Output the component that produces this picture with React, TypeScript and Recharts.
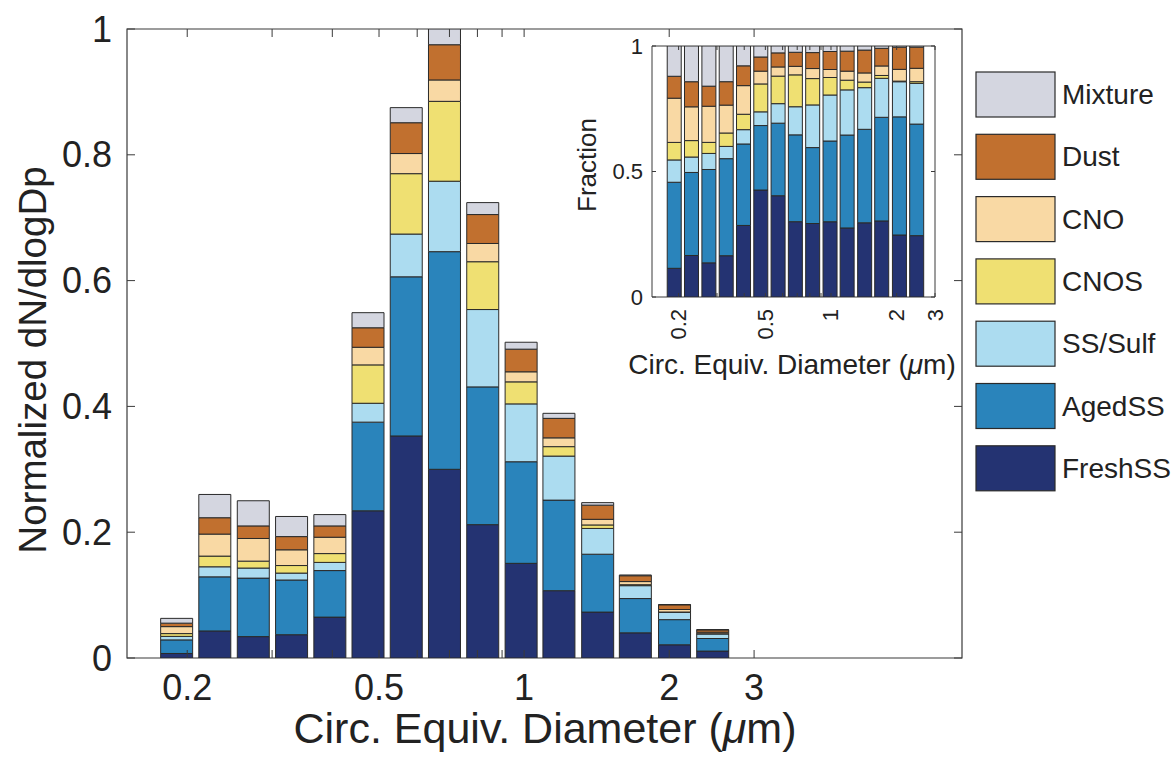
import React from 'react';
import { BarChart, Bar, XAxis, YAxis, ReferenceArea } from 'recharts';

// Bin centres (circular equivalent diameter, µm)
const diameters = [0.19, 0.228, 0.274, 0.329, 0.395, 0.474, 0.569, 0.683, 0.82, 0.985, 1.18, 1.42, 1.7, 2.05, 2.46];

// Normalized dN/dlogDp contribution of each particle class (stacked segments)
const freshSS = [0.0072, 0.043, 0.034, 0.037, 0.065, 0.234, 0.353, 0.3, 0.212, 0.1505, 0.107, 0.073, 0.04, 0.021, 0.011];
const agedSS = [0.0216, 0.086, 0.093, 0.087, 0.074, 0.141, 0.253, 0.346, 0.219, 0.1615, 0.144, 0.092, 0.0545, 0.04, 0.02];
const ssSulf = [0.0056, 0.016, 0.016, 0.011, 0.013, 0.03, 0.068, 0.112, 0.123, 0.092, 0.07, 0.041, 0.0205, 0.0119, 0.0073];
const cnos = [0.0044, 0.017, 0.011, 0.012, 0.014, 0.061, 0.096, 0.127, 0.076, 0.035, 0.015, 0.0055, 0.0015, 0.0002, 0.0003];
const cno = [0.0111, 0.035, 0.036, 0.025, 0.026, 0.028, 0.032, 0.034, 0.029, 0.016, 0.014, 0.009, 0.005, 0.004, 0.0024];
const dust = [0.0055, 0.026, 0.02, 0.021, 0.018, 0.031, 0.049, 0.056, 0.046, 0.036, 0.031, 0.0225, 0.0093, 0.0075, 0.0038];
const mixture = [0.0076, 0.037, 0.04, 0.032, 0.018, 0.024, 0.024, 0.025, 0.019, 0.011, 0.008, 0.004, 0.0012, 0.0004, 0.0002];

const seriesKeys = ['FreshSS', 'AgedSS', 'SS/Sulf', 'CNOS', 'CNO', 'Dust', 'Mixture'];
const seriesValues = [freshSS, agedSS, ssSulf, cnos, cno, dust, mixture];
const seriesColors = ['#243372', '#2a84bb', '#acdcf0', '#efe072', '#f9d9a4', '#c1702f', '#d4d6e0'];
const legendOrder = ['Mixture', 'Dust', 'CNO', 'CNOS', 'SS/Sulf', 'AgedSS', 'FreshSS'];

const xTicks = [0.2, 0.3, 0.4, 0.5, 0.6, 0.7, 0.8, 0.9, 1, 2, 3];
const xTickLabels = [0.2, 0.5, 1, 2, 3];
const yTicks = [0, 0.2, 0.4, 0.6, 0.8, 1];
const insetYTicks = [0, 0.5, 1];

const MAIN_X_DOMAIN = [0.15, 8.1];
const INSET_X_DOMAIN = [0.151, 3.0];

const W = 1174;
const H = 771;
const MAIN = { left: 127, top: 29, right: 962, bottom: 658 };
const INSET = { left: 652, top: 46, right: 935, bottom: 297 };
const AX = 1; // thickness reserved for each axis

const AXIS = '#3a3a3a';
const TEXT = '#222222';
const FONT = '"Liberation Sans", Arial, Helvetica, sans-serif';
const EDGE = '#2a2a2a';

const mainData = diameters.map((d, i) => {
  const row: any = { d };
  seriesKeys.forEach((k, s) => (row[k] = seriesValues[s][i]));
  return row;
});

const insetData = diameters.map((d, i) => {
  const total = seriesValues.reduce((acc, arr) => acc + arr[i], 0);
  const row: any = { d };
  seriesKeys.forEach((k, s) => (row[k] = seriesValues[s][i] / total));
  return row;
});

const fmt = (v: number) => String(v);

const makeXTick = (plotH: number, len: number, fontSize: number, rotate: boolean, labelOffset: number) =>
  (props: any) => {
    const { x, payload } = props;
    const y = props.y;
    const v = payload.value;
    const show = xTickLabels.includes(v);
    return (
      <g>
        <line x1={x} x2={x} y1={y} y2={y - len} stroke={AXIS} strokeWidth={1} />
        <line x1={x} x2={x} y1={y - plotH} y2={y - plotH + len} stroke={AXIS} strokeWidth={1} />
        {show &&
          (rotate ? (
            <text
              transform={`translate(${x},${y + labelOffset}) rotate(-90)`}
              textAnchor="end"
              dominantBaseline="central"
              fontSize={fontSize}
              fontFamily={FONT}
              fill={TEXT}
            >
              {fmt(v)}
            </text>
          ) : (
            <text x={x} y={y + labelOffset} textAnchor="middle" fontSize={fontSize} fontFamily={FONT} fill={TEXT}>
              {fmt(v)}
            </text>
          ))}
      </g>
    );
  };

const makeYTick = (plotW: number, len: number, fontSize: number, labelOffset: number) =>
  (props: any) => {
    const { x, y, payload } = props;
    return (
      <g>
        <line x1={x} x2={x + len} y1={y} y2={y} stroke={AXIS} strokeWidth={1} />
        <line x1={x + plotW - len} x2={x + plotW} y1={y} y2={y} stroke={AXIS} strokeWidth={1} />
        <text x={x - labelOffset} y={y} textAnchor="end" dominantBaseline="central" fontSize={fontSize} fontFamily={FONT} fill={TEXT}>
          {fmt(payload.value)}
        </text>
      </g>
    );
  };

const mainXTick = makeXTick(MAIN.bottom - MAIN.top, 8, 36, false, 42);
const mainYTick = makeYTick(MAIN.right - MAIN.left, 8, 36, 15);
const insetXTick = makeXTick(INSET.bottom - INSET.top, 4, 22, true, 12);
const insetYTick = makeYTick(INSET.right - INSET.left, 4, 22, 9);

export default function App() {
  return (
    <div style={{ position: 'absolute', left: 0, top: 0, width: W, height: H, background: '#fff', overflow: 'hidden' }}>
      <div style={{ position: 'absolute', left: 0, top: 0 }}>
        <BarChart
          width={W}
          height={H}
          data={mainData}
          margin={{ left: MAIN.left - AX, top: MAIN.top, right: W - MAIN.right, bottom: H - MAIN.bottom - AX }}
        >
          <XAxis
            dataKey="d"
            type="number"
            scale="log"
            domain={MAIN_X_DOMAIN}
            allowDataOverflow
            ticks={xTicks}
            interval={0}
            tick={mainXTick}
            tickLine={false}
            axisLine={false}
            tickSize={0}
            tickMargin={0}
            height={AX}
          />
          <YAxis
            type="number"
            domain={[0, 1]}
            allowDataOverflow
            ticks={yTicks}
            interval={0}
            tick={mainYTick}
            tickLine={false}
            axisLine={false}
            tickSize={0}
            tickMargin={0}
            width={AX}
          />
          {seriesKeys.map((k, s) => (
            <Bar
              key={k}
              dataKey={k}
              stackId="a"
              fill={seriesColors[s]}
              stroke={EDGE}
              strokeWidth={1}
              barSize={32}
              isAnimationActive={false}
            />
          ))}
          <ReferenceArea
            x1={MAIN_X_DOMAIN[0]}
            x2={MAIN_X_DOMAIN[1]}
            y1={0}
            y2={1}
            fill="none"
            stroke={AXIS}
            strokeWidth={1.2}
            ifOverflow="visible"
          />
        </BarChart>
      </div>

      <div style={{ position: 'absolute', left: 0, top: 0 }}>
        <BarChart
          width={W}
          height={H}
          data={insetData}
          margin={{ left: INSET.left - AX, top: INSET.top, right: W - INSET.right, bottom: H - INSET.bottom - AX }}
        >
          <ReferenceArea
            x1={INSET_X_DOMAIN[0]}
            x2={INSET_X_DOMAIN[1]}
            y1={0}
            y2={1}
            fill="#ffffff"
            fillOpacity={1}
            stroke="none"
            ifOverflow="visible"
          />
          <XAxis
            dataKey="d"
            type="number"
            scale="log"
            domain={INSET_X_DOMAIN}
            allowDataOverflow
            ticks={xTicks}
            interval={0}
            tick={insetXTick}
            tickLine={false}
            axisLine={false}
            tickSize={0}
            tickMargin={0}
            height={AX}
          />
          <YAxis
            type="number"
            domain={[0, 1]}
            allowDataOverflow
            ticks={insetYTicks}
            interval={0}
            tick={insetYTick}
            tickLine={false}
            axisLine={false}
            tickSize={0}
            tickMargin={0}
            width={AX}
          />
          {seriesKeys.map((k, s) => (
            <Bar
              key={k}
              dataKey={k}
              stackId="a"
              fill={seriesColors[s]}
              stroke={EDGE}
              strokeWidth={1}
              barSize={14}
              isAnimationActive={false}
            />
          ))}
          <ReferenceArea
            x1={INSET_X_DOMAIN[0]}
            x2={INSET_X_DOMAIN[1]}
            y1={0}
            y2={1}
            fill="none"
            stroke={AXIS}
            strokeWidth={1}
            ifOverflow="visible"
          />
        </BarChart>
      </div>

      <svg
        width={W}
        height={H}
        style={{ position: 'absolute', left: 0, top: 0, pointerEvents: 'none' }}
        fontFamily={FONT}
      >
        <text x={545} y={743} textAnchor="middle" fontSize={43} fill={TEXT}>
          Circ. Equiv. Diameter (<tspan fontStyle="italic">μ</tspan>m)
        </text>
        <text transform="translate(46,360) rotate(-90)" textAnchor="middle" fontSize={38.5} fill={TEXT}>
          Normalized dN/dlogDp
        </text>
        <text x={792} y={374} textAnchor="middle" fontSize={28} fill={TEXT}>
          Circ. Equiv. Diameter (<tspan fontStyle="italic">μ</tspan>m)
        </text>
        <text transform="translate(596,165) rotate(-90)" textAnchor="middle" fontSize={26} fill={TEXT}>
          Fraction
        </text>
        {legendOrder.map((name, i) => {
          const s = seriesKeys.indexOf(name);
          const top = 72 + i * 62.3;
          return (
            <g key={name}>
              <rect x={976} y={top} width={79} height={45} fill={seriesColors[s]} stroke={EDGE} strokeWidth={1.2} />
              <text x={1062} y={top + 22.5} dominantBaseline="central" fontSize={28} fill={TEXT}>
                {name}
              </text>
            </g>
          );
        })}
      </svg>
    </div>
  );
}
